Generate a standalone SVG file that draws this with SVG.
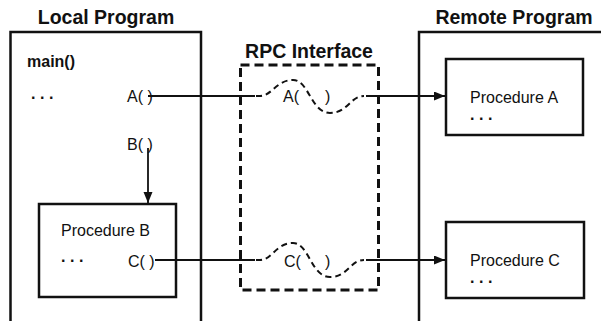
<svg xmlns="http://www.w3.org/2000/svg" width="601" height="321" viewBox="0 0 601 321">
<defs>
<style>
.title{font-family:"Liberation Sans",Arial,sans-serif;font-weight:bold;font-size:19.5px;fill:#111;text-anchor:middle}
.lbl{font-family:"Liberation Sans",Arial,sans-serif;font-size:16px;fill:#111}
.bold{font-weight:bold}
.dots{font-family:"Liberation Sans",Arial,sans-serif;font-size:16px;font-weight:bold;letter-spacing:4.5px;fill:#111}
.frame{fill:none;stroke:#111;stroke-width:2.5}
.box{fill:#fff;stroke:#111;stroke-width:2.5}
.dbox{fill:none;stroke:#111;stroke-width:3;stroke-dasharray:9 5}
.line{fill:none;stroke:#111;stroke-width:1.8}
.wave{fill:none;stroke:#111;stroke-width:2;stroke-dasharray:6 4}
</style>
<marker id="arr" markerUnits="userSpaceOnUse" markerWidth="12" markerHeight="10" refX="11" refY="4.5" orient="auto">
<path d="M0,0 L11,4.5 L0,9 z" fill="#111"/>
</marker>
</defs>

<g id="local-program">
<text class="title" x="106" y="24">Local Program</text>
<path class="frame" d="M10.5,321 V32 H201 V321"/>
<text class="lbl bold" x="27" y="67">main()</text>
<text class="dots" x="31" y="98.5">...</text>
<text class="lbl" x="127" y="102">A( )</text>
<text class="lbl" x="127" y="150">B( )</text>
</g>

<g id="procedure-b">
<rect class="box" x="39" y="204" width="137" height="93"/>
<text class="lbl" x="61" y="236">Procedure B</text>
<text class="dots" x="61" y="261.5">...</text>
<text class="lbl" x="128" y="267">C( )</text>
</g>

<g id="rpc-interface">
<text class="title" x="309" y="58">RPC Interface</text>
<rect class="dbox" x="240.5" y="65" width="138" height="225"/>
<text class="lbl" x="283" y="102">A(<tspan x="325">)</tspan></text>
<text class="lbl" x="284" y="267">C(<tspan x="325">)</tspan></text>
</g>

<g id="remote-program">
<text class="title" x="514" y="24">Remote Program</text>
<path class="frame" d="M419,321 V32 H603"/>
</g>

<g id="procedure-a">
<rect class="box" x="446" y="59" width="137" height="76"/>
<text class="lbl" x="470" y="103">Procedure A</text>
<text class="dots" x="470" y="119.5">...</text>
</g>

<g id="procedure-c">
<rect class="box" x="446" y="222" width="138" height="76"/>
<text class="lbl" x="470" y="265.5">Procedure C</text>
<text class="dots" x="470" y="282.5">...</text>
</g>

<g id="connectors">
<path class="line" d="M148,96 H255"/>
<path class="wave" d="M256,96 H260 C272,96 276,80 293,80 C309,80 311,113 330,113 C348,113 350,96 364,96"/>
<path class="line" d="M366,96 H445" marker-end="url(#arr)"/>
<path class="line" d="M148,148 V203" marker-end="url(#arr)"/>
<path class="line" d="M155,260 H255"/>
<path class="wave" d="M256,260 H260 C272,260 276,243 293,243 C309,243 311,277 330,277 C348,277 350,260 364,260"/>
<path class="line" d="M366,260 H445" marker-end="url(#arr)"/>
</g>
</svg>
